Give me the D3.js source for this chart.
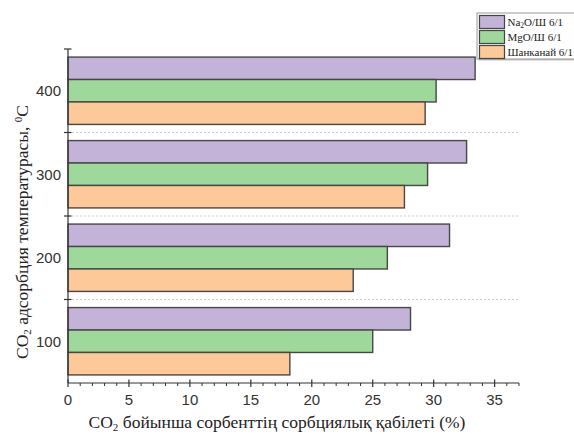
<!DOCTYPE html>
<html>
<head>
<meta charset="utf-8">
<script src="https://cdn.jsdelivr.net/npm/d3@7/dist/d3.min.js"></script>
<style>
  html, body { margin: 0; padding: 0; background: #fff; }
  svg { display: block; }
</style>
</head>
<body>
<svg id="chart" width="574" height="434"></svg>
<script>
// Adsorption temperatures (top to bottom) and sorption capacity per sorbent, %
const categories = ["400", "300", "200", "100"];
const seriesNames = ["Na₂O/Ш 6/1", "MgO/Ш 6/1", "Шанканай 6/1"];
const na2oValues = [33.4, 32.7, 31.3, 28.1];
const mgoValues = [30.2, 29.5, 26.2, 25.0];
const shankanaiValues = [29.3, 27.6, 23.4, 18.2];
const xTicks = [0, 5, 10, 15, 20, 25, 30, 35];
const seriesColors = ["#c4b3d8", "#9fd89b", "#fdc998"];

const seriesValues = [na2oValues, mgoValues, shankanaiValues];

const SANS = "'Liberation Sans', Arial, sans-serif";
const SERIF = "'Liberation Serif', 'Times New Roman', serif";

const svg = d3.select("#chart");
const plotLeft = 68, plotRight = 519, plotTop = 49, plotBottom = 383;

const x = d3.scaleLinear().domain([0, 37]).range([plotLeft, plotRight]);
const y = d3.scaleBand().domain(categories).range([plotTop, plotBottom]).paddingInner(0).paddingOuter(0);
const inner = d3.scaleBand().domain(d3.range(seriesNames.length))
  .range([0, y.bandwidth()]).paddingOuter(0.36).paddingInner(0);

// dotted separators between temperature groups
const seps = categories.slice(1).map(c => y(c));
svg.append("g").selectAll("line").data(seps).join("line")
  .attr("x1", plotLeft).attr("x2", plotRight)
  .attr("y1", d => d).attr("y2", d => d)
  .attr("stroke", "#cfcfcf").attr("stroke-width", 1)
  .attr("stroke-dasharray", "2,2");

// bars
const groups = svg.append("g").selectAll("g").data(categories).join("g")
  .attr("transform", c => `translate(0,${y(c)})`);
groups.selectAll("rect")
  .data((c, i) => seriesValues.map((vals, s) => ({ s, v: vals[i] })))
  .join("rect")
  .attr("x", x(0))
  .attr("y", d => inner(d.s))
  .attr("width", d => x(d.v) - x(0))
  .attr("height", inner.bandwidth())
  .attr("fill", d => seriesColors[d.s])
  .attr("stroke", "#474747")
  .attr("stroke-width", 1.4);

// x axis
const xAxis = svg.append("g").attr("transform", `translate(0,${plotBottom})`);
xAxis.append("line").attr("x1", plotLeft).attr("x2", plotRight).attr("y1", 0).attr("y2", 0)
  .attr("stroke", "#333").attr("stroke-width", 1.2);
xAxis.selectAll("line.minor").data(d3.range(0, 38, 1).filter(v => v % 5 !== 0)).join("line")
  .attr("class", "minor")
  .attr("x1", d => x(d)).attr("x2", d => x(d))
  .attr("y1", 0).attr("y2", 3)
  .attr("stroke", "#333").attr("stroke-width", 1);
xAxis.selectAll("line.major").data(xTicks).join("line")
  .attr("class", "major")
  .attr("x1", d => x(d)).attr("x2", d => x(d))
  .attr("y1", -3.5).attr("y2", 4)
  .attr("stroke", "#333").attr("stroke-width", 1.2);
xAxis.selectAll("text").data(xTicks).join("text")
  .attr("x", d => x(d)).attr("y", 22)
  .attr("text-anchor", "middle")
  .attr("font-family", SANS)
  .attr("font-size", 15).attr("fill", "#333")
  .text(d => d);

// y axis
const yAxis = svg.append("g");
yAxis.append("line").attr("x1", plotLeft).attr("x2", plotLeft).attr("y1", plotTop).attr("y2", plotBottom)
  .attr("stroke", "#333").attr("stroke-width", 1.2);
yAxis.selectAll("line.tick").data([plotTop, ...seps]).join("line")
  .attr("class", "tick")
  .attr("x1", plotLeft - 4).attr("x2", plotLeft + 3.5)
  .attr("y1", d => d).attr("y2", d => d)
  .attr("stroke", "#333").attr("stroke-width", 1.2);
yAxis.selectAll("text").data(categories).join("text")
  .attr("x", plotLeft - 7).attr("y", c => y(c) + y.bandwidth() / 2 + 5.5)
  .attr("text-anchor", "end")
  .attr("font-family", SANS)
  .attr("font-size", 15).attr("fill", "#333")
  .text(c => c);

// axis titles
const xTitle = svg.append("text")
  .attr("x", 277).attr("y", 428)
  .attr("text-anchor", "middle")
  .attr("font-family", SERIF)
  .attr("font-size", 17.5).attr("fill", "#222");
xTitle.append("tspan").text("CO");
xTitle.append("tspan").attr("font-size", 11).attr("dy", 3).text("2");
xTitle.append("tspan").attr("dy", -3).text(" бойынша сорбенттің сорбциялық қабілеті (%)");

const yTitle = svg.append("text")
  .attr("transform", "translate(28,232) rotate(-90)")
  .attr("text-anchor", "middle")
  .attr("font-family", SERIF)
  .attr("font-size", 17.5).attr("fill", "#222");
yTitle.append("tspan").text("CO");
yTitle.append("tspan").attr("font-size", 11).attr("dy", 3).text("2");
yTitle.append("tspan").attr("dy", -3).text(" адсорбция температурасы, ");
yTitle.append("tspan").attr("font-size", 11).attr("dy", -6).text("0");
yTitle.append("tspan").attr("dy", 6).text("C");

// legend
const legend = svg.append("g").attr("transform", "translate(477,13)");
legend.append("rect").attr("x", 1.5).attr("y", 1.5).attr("width", 110).attr("height", 46)
  .attr("fill", "#c4c4c4");
legend.append("rect").attr("x", 0).attr("y", 0).attr("width", 110).attr("height", 46)
  .attr("fill", "#fff").attr("stroke", "#999").attr("stroke-width", 1);
const rows = legend.selectAll("g.row").data(seriesNames).join("g")
  .attr("class", "row")
  .attr("transform", (d, i) => `translate(0,${2 + i * 15})`);
rows.append("rect").attr("x", 2.5).attr("y", 0.5).attr("width", 25).attr("height", 13)
  .attr("fill", (d, i) => seriesColors[i]).attr("stroke", "#444").attr("stroke-width", 1.2);
rows.append("text").attr("x", 30.5).attr("y", 11)
  .attr("font-family", SERIF)
  .attr("font-size", 11).attr("fill", "#222")
  .each(function(d) {
    const t = d3.select(this);
    if (d.startsWith("Na₂O")) {
      t.append("tspan").text("Na");
      t.append("tspan").attr("font-size", 7.5).attr("dy", 2).text("2");
      t.append("tspan").attr("dy", -2).text("O/Ш 6/1");
    } else {
      t.text(d);
    }
  });
</script>
</body>
</html>
